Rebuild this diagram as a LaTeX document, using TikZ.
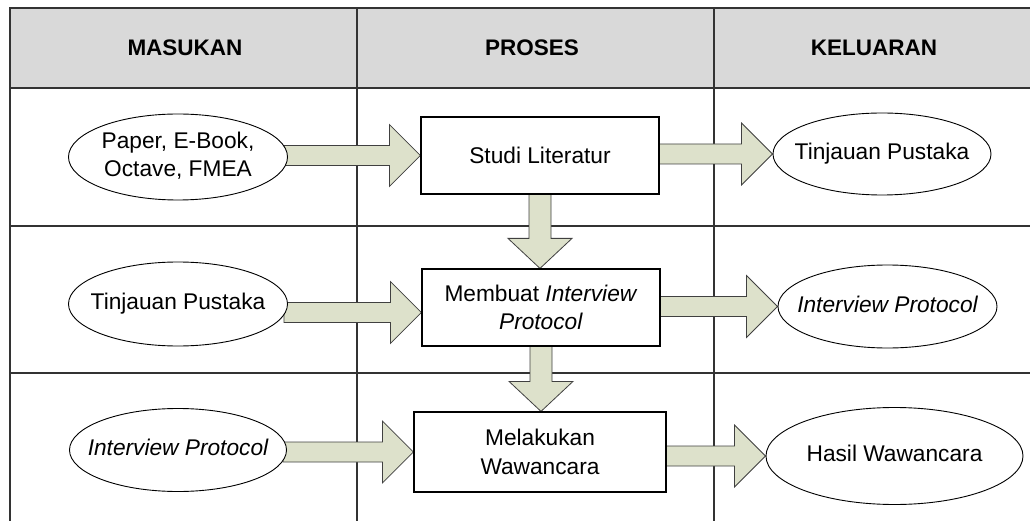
\documentclass[tikz,border=0pt]{standalone}
\usepackage{fontspec}
\setmainfont{Liberation Sans}
\usetikzlibrary{calc,shapes.geometric}
\pgfdeclarelayer{gridlayer}
\pgfdeclarelayer{arrlayer}
\pgfsetlayers{gridlayer,arrlayer,main}
\definecolor{headfill}{HTML}{D9D9D9}
\definecolor{flowfill}{HTML}{DDE1CB}
\tikzset{
  lane/.style={draw=black!80, line width=1.2pt},
  headtxt/.style={font=\fontsize{22.5}{27}\selectfont\bfseries},
  procbox/.style={draw=black, line width=1.2pt, fill=white, inner sep=0pt, align=center},
  oval/.style={ellipse, draw=black, line width=0.9pt, fill=white, inner sep=0pt},
  flow/.style={fill=flowfill, draw=black!75, line width=0.8pt, line join=miter},
  every node/.style={font=\fontsize{22.7}{28.5}\selectfont}
}
% text of fixed-size ellipses (does not stretch the shape)
\newcommand\ovtext[1]{\makebox[0pt]{\begin{tabular}{@{}c@{}}#1\end{tabular}}}
% #1: vertical offset of the arrow axis (pt, downward), #2 from, #3 to
\newcommand\rarrow[3][0]{%
  \filldraw[flow] let \p1=(#2.east), \p2=(#3.west), \n1={\y2-#1pt} in
    (\x1-4pt,\n1+10pt) -- (\x2-31pt,\n1+10pt) -- (\x2-31pt,\n1+31pt) -- (\x2,\n1)
    -- (\x2-31pt,\n1-31pt) -- (\x2-31pt,\n1-10pt) -- (\x1-4pt,\n1-10pt) -- cycle;}
\newcommand\darrow[2]{%
  \filldraw[flow] let \p1=(#1.south), \p2=(#2.north) in
    (\x1-11pt,\y1+3pt) -- (\x1-11pt,\y2+30pt) -- (\x1-32pt,\y2+30pt) -- (\x1,\y2)
    -- (\x1+32pt,\y2+30pt) -- (\x1+11pt,\y2+30pt) -- (\x1+11pt,\y1+3pt) -- cycle;}
\begin{document}
\begin{tikzpicture}[x=1pt,y=-1pt]
\useasboundingbox (0,0) rectangle (1030,521);
\begin{pgfonlayer}{gridlayer}
  \fill[headfill] (10,8) rectangle (1030,88);
  \draw[lane] (1030,8) -- (10,8) -- (10,521);
  \draw[lane] (357,8) -- (357,521);
  \draw[lane] (714,8) -- (714,521);
  \draw[lane] (10,88) -- (1030,88);
  \draw[lane] (10,226) -- (1030,226);
  \draw[lane] (10,373) -- (1030,373);
\end{pgfonlayer}
% header
\node[headtxt] (hin) at (185,48) {MASUKAN};
\node[headtxt] (hproc) at (532,48) {PROSES};
\node[headtxt] (hout) at (874,48) {KELUARAN};
% inputs
\node[oval, minimum width=219pt, minimum height=86pt] (in1) at (178,157) {\ovtext{Paper, E-Book,\\Octave, FMEA}};
\node[oval, minimum width=219pt, minimum height=84pt] (in2) at (178,304) {\ovtext{Tinjauan Pustaka}};
\node[oval, minimum width=217pt, minimum height=83pt] (in3) at (178,450) {\ovtext{\itshape Interview Protocol}};
% processes
\node[procbox, minimum width=238pt, minimum height=77pt] (p1) at (540,155.5) {Studi Literatur};
\node[procbox, minimum width=238pt, minimum height=77pt] (p2) at (541,307.5) {Membuat \textit{Interview}\\\textit{Protocol}};
\node[procbox, minimum width=252pt, minimum height=80pt] (p3) at (540,452) {Melakukan\\Wawancara};
% outputs
\node[oval, minimum width=218pt, minimum height=82pt] (out1) at (882,154) {\ovtext{Tinjauan Pustaka}};
\node[oval, minimum width=219pt, minimum height=83pt] (out2) at (887.5,306.5) {\ovtext{\itshape Interview Protocol}};
\node[oval, minimum width=257pt, minimum height=97pt] (out3) at (894.5,456) {\ovtext{Hasil Wawancara}};
\begin{pgfonlayer}{arrlayer}
  \rarrow{in1}{p1}
  \rarrow[5]{in2}{p2}
  \rarrow{in3}{p3}
  \rarrow{p1}{out1}
  \rarrow{p2}{out2}
  \rarrow{p3}{out3}
  \darrow{p1}{p2}
  \darrow{p2}{p3}
\end{pgfonlayer}
\end{tikzpicture}
\end{document}
